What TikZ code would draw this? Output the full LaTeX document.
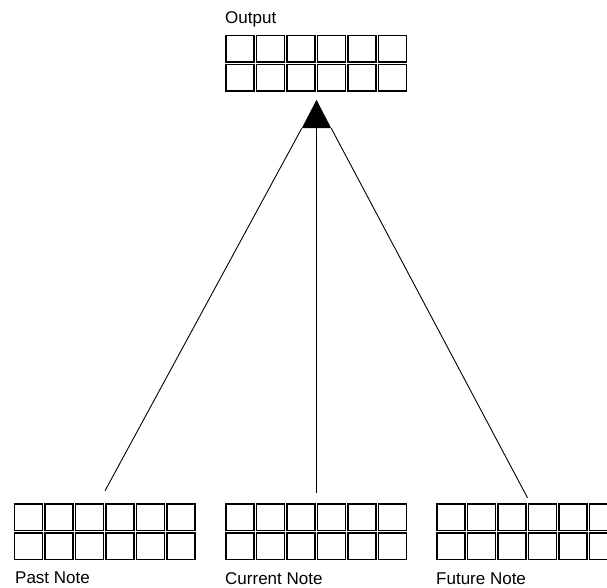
\documentclass[tikz,border=0pt]{standalone}
\usepackage{fontspec}
\setmainfont{Liberation Sans}
\begin{document}
\begin{tikzpicture}[x=1pt,y=-1pt,
  grid/.style={inner sep=0pt, minimum width=183pt, minimum height=58pt},
  lbl/.style={inner sep=0pt, anchor=base west, font=\fontsize{17}{19}\selectfont},
  cell/.style={draw=black, line width=1.4pt},
  conn/.style={draw=black, line width=0.9pt}]
\useasboundingbox (0,0) rectangle (607,587);
% grids
\node[grid] (out) at (316.5,63.5) {};
\node[grid] (past) at (105,532) {};
\node[grid] (cur) at (316.5,532) {};
\node[grid] (fut) at (527.5,532) {};
\foreach \g in {out,past,cur,fut}{
  \foreach \i in {0,...,5}{
    \foreach \j in {0,1}{
      \draw[cell] ([xshift={\i*30.5pt+1.2pt},yshift={-\j*29pt-1.2pt}]\g.north west)
        rectangle ([xshift={(\i+1)*30.5pt-1.2pt},yshift={-(\j+1)*29pt+1.2pt}]\g.north west);
    }
  }
}
% labels
\node[lbl] (outl) at (225,23.5) {Output};
\node[lbl] (pastl) at (15,583) {Past Note};
\node[lbl] (curl) at (225,584) {Current Note};
\node[lbl] (futl) at (436,584) {Future Note};
% arrowhead
\node[inner sep=0pt, minimum width=29pt, minimum height=28pt] (arr) at (316.5,114) {};
\fill[black] (arr.north) -- (arr.south east) -- (arr.south west) -- cycle;
% connectors
\draw[conn] (arr.south west) -- ([yshift=12pt]past.north);
\draw[conn] (arr.south) -- ([yshift=10pt]cur.north);
\draw[conn] (arr.south east) -- ([yshift=5pt]fut.north);
\end{tikzpicture}
\end{document}
